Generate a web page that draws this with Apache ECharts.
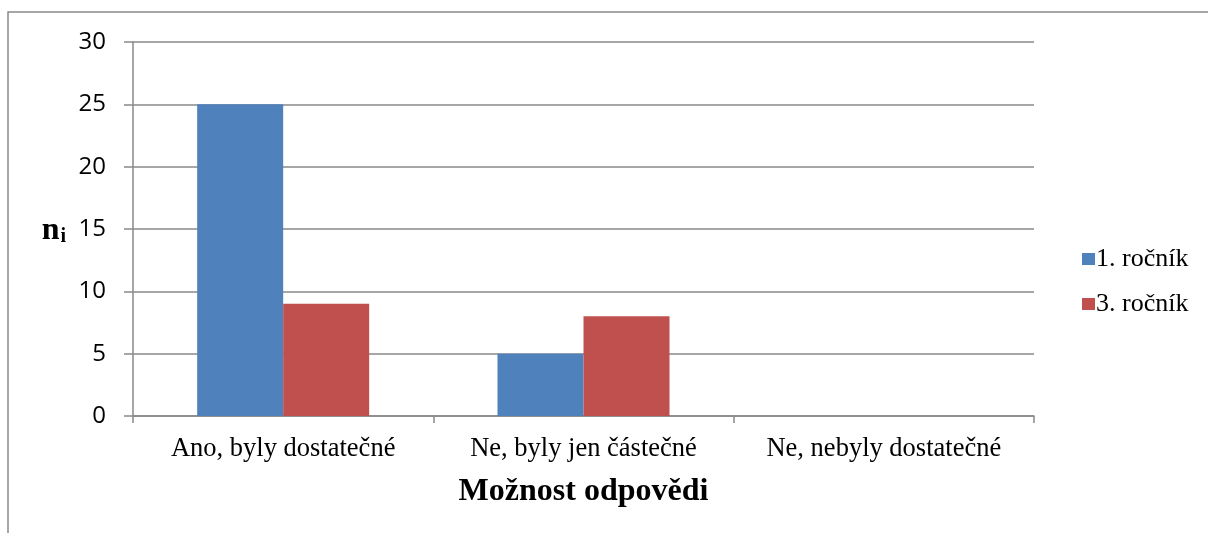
<!DOCTYPE html>
<html>
<head>
<meta charset="utf-8">
<script src="https://cdn.jsdelivr.net/npm/echarts@6/dist/echarts.min.js"></script>
<style>html,body{margin:0;padding:0;background:#fff;}#c{width:1208px;height:533px;}</style>
</head>
<body>
<div id="c"></div>
<script>
const categories = ['Ano, byly dostatečné', 'Ne, byly jen částečné', 'Ne, nebyly dostatečné'];
const seriesNames = ['1. ročník', '3. ročník'];
const values1 = [25, 5, 0];
const values3 = [9, 8, 0];
const xAxisTitle = 'Možnost odpovědi';

const chart = echarts.init(document.getElementById('c'), null, {renderer: 'canvas'});
const gray = '#898989';
chart.setOption({
  animation: false,
  backgroundColor: '#fff',
  color: ['#4F81BD', '#C0504D'],
  graphic: [{
    type: 'rect', shape: {x: 8, y: 12, width: 1400, height: 700},
    style: {fill: 'none', stroke: gray, lineWidth: 1.5}, silent: true
  }],
  grid: {left: 133, right: 174, top: 42, bottom: 117, containLabel: false},
  legend: {
    orient: 'vertical', left: 1077, top: 241,
    itemWidth: 13, itemHeight: 12, itemGap: 19,
    icon: 'rect',
    textStyle: {fontFamily: 'Liberation Serif', fontSize: 26, color: '#000', lineHeight: 26, padding: [0, 0, 0, -4]},
    data: seriesNames
  },
  xAxis: {
    type: 'category', data: categories,
    name: xAxisTitle, nameLocation: 'middle', nameGap: 60,
    nameTextStyle: {fontFamily: 'Liberation Serif', fontWeight: 'bold', fontSize: 32, color: '#000'},
    axisLine: {lineStyle: {color: gray, width: 1.5}},
    axisTick: {show: true, length: 7, interval: 0, lineStyle: {color: gray, width: 1.5}},
    axisLabel: {interval: 0, hideOverlap: false, fontFamily: 'Liberation Serif', fontSize: 26.5, color: '#000', margin: 20}
  },
  yAxis: {
    type: 'value', min: 0, max: 30, interval: 5,
    name: '{n|n}{i|i}', nameLocation: 'middle', nameGap: 67, nameRotate: 0,
    nameTextStyle: {rich: {
      n: {fontFamily: 'Liberation Serif', fontWeight: 'bold', fontSize: 32, color: '#000', verticalAlign: 'bottom'},
      i: {fontFamily: 'Liberation Serif', fontWeight: 'bold', fontSize: 20, color: '#000', verticalAlign: 'top', padding: [15, 0, 0, 1]}
    }},
    axisLine: {show: true, lineStyle: {color: gray, width: 1.5}},
    axisTick: {show: true, length: 9, lineStyle: {color: gray, width: 1.5}},
    axisLabel: {fontFamily: 'Open Sans', fontSize: 24, color: '#000', margin: 27},
    splitLine: {lineStyle: {color: gray, width: 1.5}}
  },
  series: [
    {name: seriesNames[0], type: 'bar', data: values1, barWidth: 86, barGap: '0%'},
    {name: seriesNames[1], type: 'bar', data: values3, barWidth: 86, barGap: '0%'}
  ]
});
</script>
</body>
</html>
